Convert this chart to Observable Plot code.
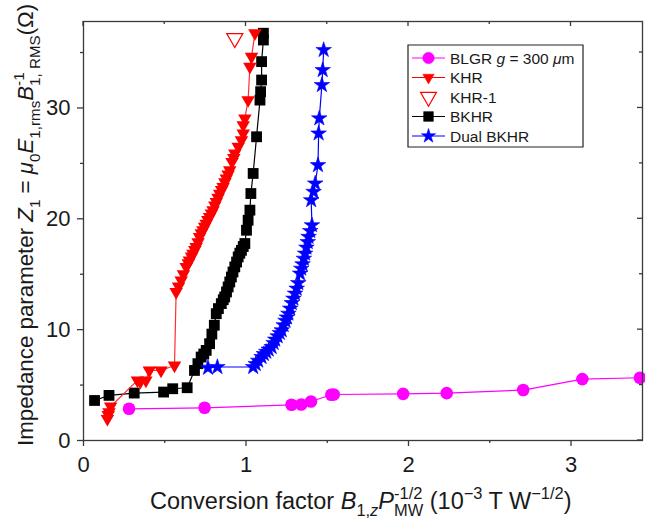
<!DOCTYPE html>
<html>
<head>
<meta charset="utf-8">
<script src="https://cdn.jsdelivr.net/npm/d3@7"></script>
<script src="https://cdn.jsdelivr.net/npm/@observablehq/plot@0.6"></script>
<style>
  html, body { margin: 0; padding: 0; background: #fff; }
  #chart { width: 645px; height: 521px; }
  svg text { white-space: pre; }
</style>
</head>
<body>
<div id="chart"></div>
<script>
// ---- data ----
const xTicks = [0, 1, 2, 3];
const xMinor = [0.5, 1.5, 2.5];
const yTicks = [0, 10, 20, 30];
const yMinor = [5, 15, 25, 35];

const blgrX = [0.28, 0.745, 1.28, 1.34, 1.40, 1.525, 1.54, 1.967, 2.235, 2.706, 3.07, 3.424];
const blgrY = [2.86, 2.95, 3.22, 3.25, 3.52, 4.13, 4.15, 4.21, 4.27, 4.55, 5.54, 5.66];

const khrX = [0.147, 0.152, 0.157, 0.167, 0.332, 0.350, 0.384, 0.405, 0.477, 0.560,
  0.570, 0.585, 0.601, 0.615, 0.632, 0.645, 0.652, 0.665, 0.673, 0.685, 0.693, 0.705,
  0.714, 0.725, 0.735, 0.745, 0.755, 0.765, 0.776, 0.787, 0.797, 0.808, 0.817, 0.828,
  0.838, 0.850, 0.859, 0.870, 0.879, 0.890, 0.900, 0.914, 0.925, 0.931, 0.952, 0.972,
  0.983, 0.983, 0.993, 1.013, 1.024, 1.034, 1.055];
const khrY = [1.96, 2.30, 2.56, 3.07, 5.42, 5.30, 5.42, 6.32, 6.32, 6.77,
  13.40, 13.90, 14.45, 15.00, 15.66, 16.00, 16.26, 16.60, 16.86, 17.20, 17.46, 17.90,
  18.37, 18.70, 18.97, 19.30, 19.57, 19.90, 20.17, 20.50, 20.78, 21.20, 21.53, 21.90,
  22.28, 22.60, 22.88, 23.30, 23.64, 24.00, 24.39, 25.14, 25.50, 25.90, 26.50, 27.10,
  27.70, 28.46, 29.06, 30.71, 33.73, 34.63, 36.74];

const khr1X = [0.931];
const khr1Y = [36.29];

const bkhrX = [0.068, 0.157, 0.312, 0.493, 0.549, 0.638, 0.683, 0.704, 0.724, 0.740,
  0.755, 0.776, 0.790, 0.805, 0.817, 0.830, 0.848, 0.860, 0.869, 0.880, 0.890, 0.900,
  0.910, 0.920, 0.931, 0.942, 0.952, 0.962, 0.972, 0.983, 0.993, 1.003, 1.013, 1.024,
  1.030, 1.044, 1.065, 1.086, 1.090, 1.096, 1.096, 1.107, 1.107];
const bkhrY = [3.61, 4.07, 4.28, 4.37, 4.67, 4.76, 6.32, 6.93, 7.53, 7.80,
  8.13, 8.73, 9.60, 10.40, 11.44, 11.90, 12.35, 12.70, 12.95, 13.40, 13.85, 14.30,
  14.75, 15.20, 15.66, 16.10, 16.56, 16.90, 17.16, 17.50, 17.77, 18.97, 19.87, 20.78,
  22.28, 24.09, 27.40, 30.71, 31.47, 32.52, 34.18, 36.13, 36.74];

const dualX = [0.766, 0.824, 1.044, 1.060, 1.075, 1.096, 1.110, 1.125, 1.140, 1.158,
  1.170, 1.180, 1.195, 1.208, 1.220, 1.232, 1.243, 1.252, 1.261, 1.272, 1.282, 1.292,
  1.302, 1.312, 1.322, 1.333, 1.340, 1.348, 1.356, 1.364, 1.372, 1.380, 1.385, 1.395,
  1.406, 1.401, 1.416, 1.426, 1.443, 1.447, 1.451, 1.467, 1.472, 1.478];
const dualY = [6.56, 6.63, 6.63, 6.90, 7.20, 7.53, 7.80, 8.00, 8.20, 8.43,
  8.80, 9.10, 9.40, 9.70, 9.94, 10.40, 10.80, 11.10, 11.44, 11.90, 12.40, 12.80,
  13.25, 13.70, 14.20, 15.06, 15.50, 15.90, 16.40, 16.86, 17.40, 17.90, 18.37, 18.90,
  19.42, 21.68, 22.43, 23.19, 24.84, 27.70, 29.06, 32.07, 33.42, 35.23];

const seriesNames = ["BLGR g = 300 \u03bcm", "KHR", "KHR-1", "BKHR", "Dual BKHR"];

// ---- build tables ----
const zip = (xs, ys) => xs.map((x, i) => ({x, y: ys[i]}));
const blgr = zip(blgrX, blgrY);
const khr = zip(khrX, khrY);
const khr1 = zip(khr1X, khr1Y);
const bkhr = zip(bkhrX, bkhrY);
const dual = zip(dualX, dualY);

const FONT = "'Liberation Sans', Arial, Helvetica, sans-serif";
const axisColor = "#3a3a3a";
const textColor = "#1a1a1a";

const plot = Plot.plot({
  width: 645,
  height: 521,
  marginTop: 21,
  marginRight: 3,
  marginBottom: 81,
  marginLeft: 83,
  x: {domain: [0, 3.44]},
  y: {domain: [0, 37.8]},
  style: {fontFamily: FONT, background: "#fff", color: textColor, overflow: "visible"},
  marks: [
    Plot.axisX(xTicks, {anchor: "bottom", tickSize: 6, tickPadding: 10, fontSize: 22, tickFormat: d3.format("d"), label: null, stroke: axisColor, strokeWidth: 1.3, fill: textColor}),
    Plot.axisX(xMinor, {anchor: "bottom", tickSize: 3, text: null, label: null, stroke: axisColor, strokeWidth: 1.3}),
    Plot.axisY(yTicks, {anchor: "left", tickSize: 6, tickPadding: 7, fontSize: 22, tickFormat: d3.format("d"), label: null, stroke: axisColor, strokeWidth: 1.3, fill: textColor}),
    Plot.axisY(yMinor, {anchor: "left", tickSize: 3, text: null, label: null, stroke: axisColor, strokeWidth: 1.3}),

    Plot.line(bkhr, {x: "x", y: "y", stroke: "#000", strokeWidth: 1.2}),
    Plot.dot(bkhr, {x: "x", y: "y", symbol: "square", r: 6.1, fill: "#000", stroke: "none"}),

    Plot.line(dual, {x: "x", y: "y", stroke: "#0000ff", strokeWidth: 1.2}),
    Plot.dot(dual, {x: "x", y: "y", symbol: "star", r: 4.9, fill: "#0000ff", stroke: "#0000ff", strokeWidth: 0.6}),

    Plot.line(blgr, {x: "x", y: "y", stroke: "#ff00ff", strokeWidth: 1.2}),
    Plot.dot(blgr, {x: "x", y: "y", symbol: "circle", r: 6.3, fill: "#ff00ff", stroke: "none"}),

    Plot.line(khr, {x: "x", y: "y", stroke: "#ff3030", strokeWidth: 1.2}),
    Plot.dot(khr, {x: "x", y: "y", symbol: "triangle", rotate: 180, r: 5.0, fill: "#ff0000", stroke: "none"}),

    Plot.dot(khr1, {x: "x", y: "y", symbol: "triangle", rotate: 180, r: 6.0, fill: "none", stroke: "#ff0000", strokeWidth: 1.2}),

    Plot.frame({stroke: axisColor, strokeWidth: 1.3})
  ]
});

document.getElementById("chart").appendChild(plot);

const svg = d3.select(plot);
const sx = plot.scale("x");
const sy = plot.scale("y");

// inward mirror ticks on top and right
const topY = 21, rightX = 642;
const mirror = svg.append("g").attr("stroke", axisColor).attr("stroke-width", 1.3);
xTicks.forEach(t => mirror.append("line").attr("x1", sx.apply(t)).attr("x2", sx.apply(t)).attr("y1", topY).attr("y2", topY + 5));
xMinor.forEach(t => mirror.append("line").attr("x1", sx.apply(t)).attr("x2", sx.apply(t)).attr("y1", topY).attr("y2", topY + 3));
yTicks.forEach(t => mirror.append("line").attr("y1", sy.apply(t)).attr("y2", sy.apply(t)).attr("x1", rightX).attr("x2", rightX - 5));
yMinor.forEach(t => mirror.append("line").attr("y1", sy.apply(t)).attr("y2", sy.apply(t)).attr("x1", rightX).attr("x2", rightX - 3));

// rich-text labels
function rich(parts, {x, y, rotate = false, size = 22, k = 0.68}) {
  const g = svg.append("g")
    .attr("transform", rotate ? `translate(${x},${y}) rotate(-90)` : `translate(${x},${y})`)
    .attr("fill", textColor)
    .attr("text-anchor", "start")
    .attr("font-family", FONT);
  let cx = 0;
  const add = (t, px, dy, fs, italic) => {
    const el = g.append("text")
      .attr("x", px).attr("y", dy)
      .attr("text-anchor", "start")
      .attr("font-size", fs)
      .attr("font-style", italic ? "italic" : null)
      .text(t);
    return el.node().getComputedTextLength();
  };
  for (const p of parts) {
    if (p.stack) {
      let c1 = cx, c2 = cx;
      for (const s of p.stack[0]) c1 += add(s.t, c1, -0.42 * size, k * size, s.i);
      for (const s of p.stack[1]) c2 += add(s.t, c2, 0.30 * size, k * size, s.i);
      cx = Math.max(c1, c2);
    } else {
      const fs = (p.sub || p.sup) ? k * size : size;
      const dy = p.sub ? 0.30 * size : p.sup ? -0.42 * size : 0;
      cx += add(p.t, cx, dy, fs, p.i);
    }
  }
  return cx;
}

// x label
rich([
  {t: "Conversion factor "},
  {t: "B", i: true},
  {t: "1,", sub: true},
  {t: "z", sub: true, i: true},
  {t: "P", i: true},
  {stack: [[{t: "-1/2"}], [{t: "MW"}]]},
  {t: " (10"},
  {t: "\u22123", sup: true},
  {t: " T W"},
  {t: "\u22121/2", sup: true},
  {t: ")"}
], {x: 150, y: 509, size: 23.5, k: 0.7});

// y label
rich([
  {t: "Impedance parameter "},
  {t: "Z", i: true},
  {t: "1", sub: true},
  {t: " = "},
  {t: "\u03bc", i: true},
  {t: "0", sub: true},
  {t: "E", i: true},
  {t: "1,rms", sub: true},
  {t: "B", i: true},
  {stack: [[{t: "-1"}], [{t: "1, RMS"}]]},
  {t: "(\u03a9)"}
], {x: 33, y: 446, rotate: true, size: 22.3, k: 0.68});

// legend
const lg = svg.append("g").attr("font-family", FONT).attr("text-anchor", "start");
lg.append("path").attr("d", "M408,45H583V147H408Z")
  .style("fill", "#ffffff").style("stroke", "#222222").style("stroke-width", "1.2px");
const rowsY = [58, 77.5, 97, 116.5, 136];
const legendItems = [
  {name: seriesNames[0], color: "#ff00ff", sym: d3.symbolCircle, size: 105, fill: true, line: true, rot: 0},
  {name: seriesNames[1], color: "#ff0000", sym: d3.symbolTriangle, size: 55, fill: true, line: true, rot: 180},
  {name: seriesNames[2], color: "#ff0000", sym: d3.symbolTriangle, size: 110, fill: false, line: false, rot: 180},
  {name: seriesNames[3], color: "#000000", sym: d3.symbolSquare, size: 95, fill: true, line: true, rot: 0},
  {name: seriesNames[4], color: "#0000ff", sym: d3.symbolStar, size: 65, fill: true, line: true, rot: 0}
];
legendItems.forEach((d, i) => {
  const y = rowsY[i];
  if (d.line) lg.append("line").attr("x1", 412).attr("x2", 445).attr("y1", y).attr("y2", y)
    .attr("stroke", d.color).attr("stroke-width", 1.2);
  lg.append("path").attr("d", d3.symbol(d.sym, d.size)())
    .attr("transform", `translate(428.5,${y}) rotate(${d.rot})`)
    .attr("fill", d.fill ? d.color : "#fff")
    .attr("stroke", d.color).attr("stroke-width", d.fill ? 0.5 : 1.2);
  const t = lg.append("text").attr("x", 450).attr("y", y + 5.5).attr("text-anchor", "start")
    .attr("font-size", 15.5).attr("fill", textColor);
  if (i === 0) {
    t.append("tspan").text("BLGR ");
    t.append("tspan").attr("font-style", "italic").text("g");
    t.append("tspan").text(" = 300 ");
    t.append("tspan").attr("font-style", "italic").text("\u03bc");
    t.append("tspan").text("m");
  } else {
    t.text(d.name);
  }
});
</script>
</body>
</html>
